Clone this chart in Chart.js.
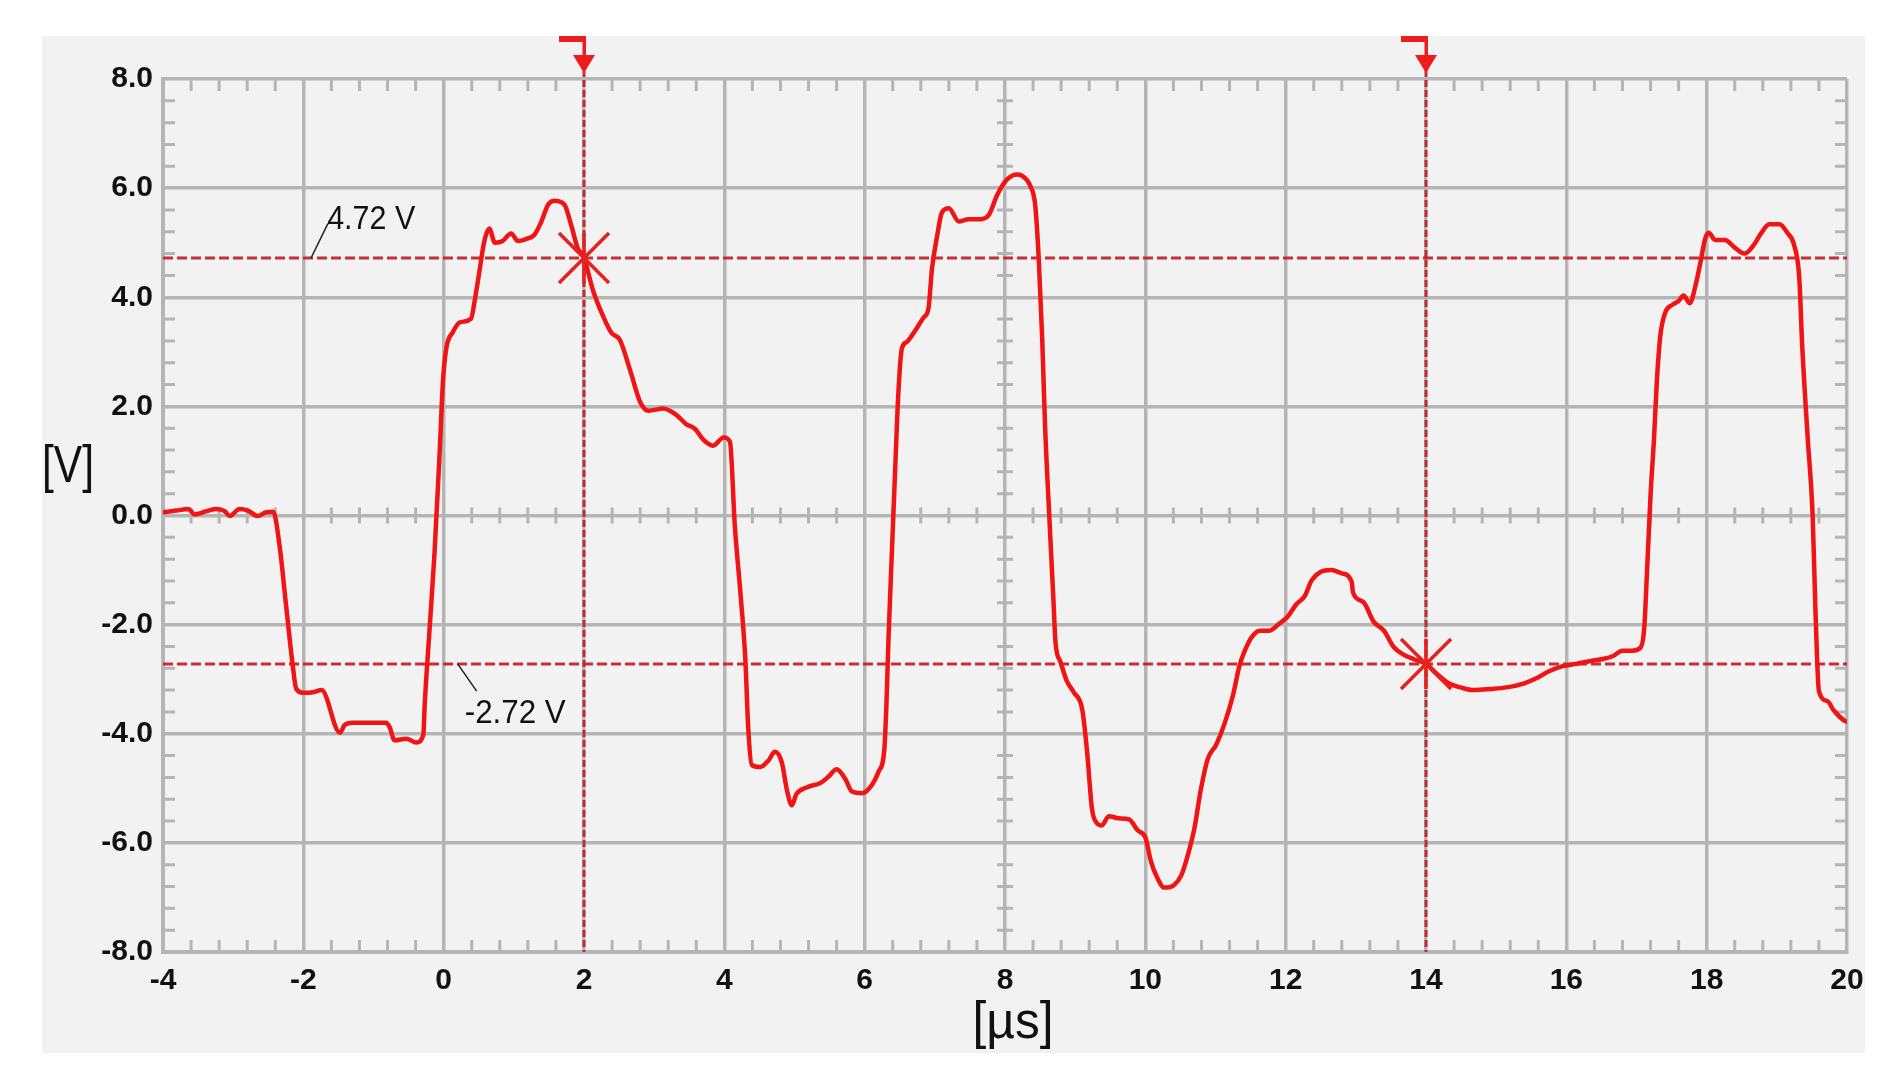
<!DOCTYPE html>
<html><head><meta charset="utf-8">
<script src="https://cdn.jsdelivr.net/npm/chart.js@4.4.1/dist/chart.umd.min.js"></script>
<style>html,body{margin:0;padding:0;background:#fff;}canvas{display:block;}</style>
</head><body>
<canvas id="c" width="1890" height="1086" style="width:1890px;height:1086px"></canvas>
<script>
// ---- data ----
const timesUs = [
 -4.00,-3.81,-3.64,-3.55,-3.38,-3.24,-3.12,-3.05,-2.91,-2.79,-2.65,-2.53,-2.43,
 -2.34,-2.24,-2.15,-2.10,-2.00,-1.86,-1.74,-1.48,-1.41,-1.30,-1.00,-0.82,-0.77,
 -0.70,-0.53,-0.39,-0.29,-0.27,-0.20,-0.13,-0.06,-0.01,0.04,0.13,0.23,0.39,0.44,
 0.51,0.58,0.65,0.73,0.84,0.96,1.06,1.18,1.29,1.39,1.49,1.58,1.72,1.82,1.91,2.00,
 2.13,2.28,2.39,2.51,2.66,2.80,2.92,3.13,3.32,3.46,3.58,3.70,3.84,3.99,4.08,
 4.15,4.23,4.30,4.34,4.39,4.51,4.63,4.72,4.82,4.89,4.96,5.03,5.18,5.37,5.49,
 5.60,5.72,5.82,5.96,6.08,6.20,6.28,6.31,6.34,6.39,6.44,6.48,6.53,6.60,6.70,
 6.84,6.91,6.96,7.03,7.10,7.20,7.34,7.48,7.63,7.77,7.89,8.03,8.17,8.24,8.36,
 8.43,8.48,8.53,8.57,8.64,8.69,8.72,8.79,8.88,8.98,9.10,9.17,9.24,9.31,9.38,
 9.48,9.62,9.77,9.89,10.00,10.08,10.17,10.27,10.41,10.51,10.60,10.70,10.79,
 10.89,11.01,11.13,11.25,11.34,11.41,11.51,11.63,11.77,11.91,12.03,12.15,12.27,
 12.37,12.49,12.65,12.80,12.94,12.96,13.11,13.25,13.40,13.54,13.68,13.82,14.00,
 14.16,14.33,14.49,14.68,14.92,15.15,15.39,15.58,15.76,15.95,16.14,16.33,16.52,
 16.66,16.80,16.94,17.06,17.11,17.15,17.20,17.25,17.29,17.34,17.41,17.51,17.60,
 17.67,17.76,17.84,17.91,17.98,18.03,18.12,18.26,18.40,18.54,18.66,18.78,18.89,
 19.04,19.15,19.25,19.32,19.36,19.44,19.51,19.55,19.60,19.72,19.81,19.95,20.00
];
const voltsV = [
 0.06,0.09,0.12,0.02,0.08,0.12,0.08,-0.01,0.12,0.09,-0.01,0.06,0.07,
 -0.54,-1.72,-2.76,-3.18,-3.25,-3.24,-3.20,-3.98,-3.84,-3.80,-3.80,-3.80,-3.88,
 -4.12,-4.09,-4.16,-4.02,-3.46,-2.07,-0.68,1.07,2.46,3.08,3.36,3.54,3.61,3.92,
 4.48,5.03,5.26,5.00,5.03,5.17,5.03,5.07,5.14,5.38,5.70,5.77,5.70,5.31,4.90,4.72,
 4.12,3.63,3.35,3.22,2.65,2.08,1.92,1.96,1.84,1.67,1.59,1.39,1.28,1.43,1.35,
 -0.20,-1.43,-2.65,-3.88,-4.57,-4.61,-4.49,-4.33,-4.53,-5.02,-5.31,-5.10,-4.98,-4.90,-4.78,
 -4.65,-4.82,-5.06,-5.09,-4.98,-4.69,-4.29,-3.47,-2.24,-0.61,1.02,2.24,3.06,3.18,3.35,
 3.63,3.80,4.53,5.10,5.55,5.63,5.39,5.43,5.43,5.51,5.88,6.16,6.25,6.23,6.04,
 5.69,4.73,3.25,1.68,-0.24,-1.54,-2.33,-2.68,-3.03,-3.24,-3.55,-4.33,-5.38,-5.64,-5.68,
 -5.51,-5.55,-5.57,-5.77,-5.90,-6.34,-6.64,-6.82,-6.77,-6.60,-6.25,-5.73,-5.03,
 -4.46,-4.20,-3.81,-3.29,-2.76,-2.50,-2.24,-2.11,-2.11,-1.98,-1.85,-1.63,-1.48,
 -1.19,-1.04,-1.00,-1.06,-1.21,-1.41,-1.59,-1.94,-2.11,-2.41,-2.55,-2.63,-2.72,
 -2.91,-3.08,-3.15,-3.20,-3.18,-3.15,-3.08,-2.98,-2.85,-2.76,-2.72,-2.67,-2.63,
 -2.58,-2.48,-2.48,-2.42,-2.07,-1.03,0.37,1.42,2.46,3.30,3.72,3.86,3.93,
 4.03,3.89,4.21,4.63,5.08,5.18,5.05,5.05,4.91,4.80,4.94,5.18,5.34,
 5.34,5.18,4.94,4.35,3.16,1.42,0.02,-1.72,-3.22,-3.40,-3.57,-3.75,-3.78
];
const xRange = [-4, 20];
const yRange = [-8, 8];
const tickStep = 2;
const minorStep = 0.4;
const cursorTimes = [2, 14];
const cursorLevels = [4.72, -2.72];
const cursorLabels = ['4.72 V', '-2.72 V'];
const xAxisTitle = '[\u00b5s]';
const yAxisTitle = '[V]';

// ---- styling ----
const GRID = '#b5b5b5';
const TRACE = '#f01414';
const CURSOR = 'rgba(196,36,44,0.95)';
const FONT = "'Liberation Sans', Arial, sans-serif";

const points = timesUs.map((t, i) => ({x: t, y: voltsV[i]}));

function drawScaledText(ctx, text, x, y, font, targetW, align) {
  ctx.save();
  ctx.font = font;
  const w = ctx.measureText(text).width;
  const s = targetW / w;
  ctx.translate(x, y);
  ctx.scale(s, 1);
  ctx.textAlign = align;
  ctx.fillText(text, 0, 0);
  ctx.restore();
}

const backgroundPlugin = {
  id: 'panelBg',
  beforeDraw(chart) {
    const ctx = chart.ctx;
    ctx.save();
    ctx.fillStyle = '#ffffff';
    ctx.fillRect(0, 0, chart.width, chart.height);
    ctx.fillStyle = '#f2f2f2';
    ctx.fillRect(42, 36, 1823, 1017);
    ctx.restore();
  }
};

const minorTickPlugin = {
  id: 'minorTicks',
  beforeDatasetsDraw(chart) {
    const ctx = chart.ctx, xs = chart.scales.x, ys = chart.scales.y;
    const {left, right, top, bottom} = chart.chartArea;
    const y0 = ys.getPixelForValue(0);
    const xMid = xs.getPixelForValue(8);
    ctx.save();
    ctx.strokeStyle = GRID;
    ctx.lineWidth = 3;
    const nx = Math.round((xRange[1] - xRange[0]) / minorStep);
    for (let i = 0; i <= nx; i++) {
      if (i % 5 === 0) continue;
      const px = xs.getPixelForValue(xRange[0] + i * minorStep);
      ctx.beginPath();
      ctx.moveTo(px, top); ctx.lineTo(px, top + 12);
      ctx.moveTo(px, bottom); ctx.lineTo(px, bottom - 12);
      ctx.moveTo(px, y0 - 8); ctx.lineTo(px, y0 + 8);
      ctx.stroke();
    }
    const ny = Math.round((yRange[1] - yRange[0]) / minorStep);
    for (let i = 0; i <= ny; i++) {
      if (i % 5 === 0) continue;
      const py = ys.getPixelForValue(yRange[0] + i * minorStep);
      ctx.beginPath();
      ctx.moveTo(left, py); ctx.lineTo(left + 12, py);
      ctx.moveTo(right, py); ctx.lineTo(right - 12, py);
      ctx.moveTo(xMid - 8, py); ctx.lineTo(xMid + 8, py);
      ctx.stroke();
    }
    // cursors
    ctx.strokeStyle = CURSOR;
    ctx.lineWidth = 3;
    ctx.setLineDash([10, 4]);
    cursorLevels.forEach(v => {
      const py = ys.getPixelForValue(v);
      ctx.beginPath(); ctx.moveTo(left, py); ctx.lineTo(right, py); ctx.stroke();
    });
    ctx.setLineDash([7, 3]);
    cursorTimes.forEach(t => {
      const px = xs.getPixelForValue(t);
      ctx.beginPath(); ctx.moveTo(px, 70); ctx.lineTo(px, bottom); ctx.stroke();
    });
    ctx.setLineDash([]);
    ctx.restore();
  },
  afterDatasetsDraw(chart) {
    const ctx = chart.ctx, xs = chart.scales.x, ys = chart.scales.y;
    ctx.save();
    // flags at top of cursors
    ctx.fillStyle = '#ee1c1c';
    cursorTimes.forEach(t => {
      const px = xs.getPixelForValue(t);
      ctx.fillRect(px - 25, 36, 27, 6);
      ctx.fillRect(px - 1.5, 36, 3.5, 22);
      ctx.beginPath();
      ctx.moveTo(px - 11, 55); ctx.lineTo(px + 11, 55); ctx.lineTo(px, 73);
      ctx.closePath(); ctx.fill();
    });
    // star markers where cursors meet the levels
    ctx.strokeStyle = '#e8201e';
    ctx.lineWidth = 3.5;
    cursorTimes.forEach((t, i) => {
      const px = xs.getPixelForValue(t), py = ys.getPixelForValue(cursorLevels[i]);
      const r = 25;
      ctx.beginPath();
      ctx.moveTo(px - r, py - r); ctx.lineTo(px + r, py + r);
      ctx.moveTo(px - r, py + r); ctx.lineTo(px + r, py - r);
      ctx.moveTo(px, py - r); ctx.lineTo(px, py + r);
      ctx.stroke();
    });
    // level annotations with leader lines
    const ann = [
      {from: [-1.89, 4.72], to: [-1.65, 5.35], text: [-1.66, 5.26], w: 88},
      {from: [0.20, -2.72], to: [0.47, -3.22], text: [0.30, -3.81], w: 101}
    ];
    ctx.strokeStyle = '#222';
    ctx.lineWidth = 1.5;
    ctx.fillStyle = '#111';
    ctx.textBaseline = 'alphabetic';
    ann.forEach((a, i) => {
      ctx.beginPath();
      ctx.moveTo(xs.getPixelForValue(a.from[0]), ys.getPixelForValue(a.from[1]));
      ctx.lineTo(xs.getPixelForValue(a.to[0]), ys.getPixelForValue(a.to[1]));
      ctx.stroke();
      drawScaledText(ctx, cursorLabels[i], xs.getPixelForValue(a.text[0]),
        ys.getPixelForValue(a.text[1]), '33px ' + FONT, a.w, 'left');
    });
    // axis titles (horizontal, as in the reference)
    ctx.fillStyle = '#111';
    ctx.textBaseline = 'middle';
    drawScaledText(ctx, yAxisTitle, 68, 468, '52px ' + FONT, 52, 'center');
    drawScaledText(ctx, xAxisTitle, 1013, 1024, '52px ' + FONT, 81, 'center');
    ctx.restore();
  }
};

new Chart(document.getElementById('c'), {
  type: 'line',
  data: {
    datasets: [{
      data: points,
      borderColor: TRACE,
      borderWidth: 4.5,
      pointRadius: 0,
      cubicInterpolationMode: 'monotone',
      borderJoinStyle: 'round',
      borderCapStyle: 'round',
      fill: false
    }]
  },
  options: {
    responsive: false,
    devicePixelRatio: 1,
    animation: false,
    events: [],
    layout: {padding: {top: 79, right: 43, left: 0, bottom: 0}},
    plugins: {legend: {display: false}, tooltip: {enabled: false}, title: {display: false}},
    scales: {
      x: {
        type: 'linear',
        min: xRange[0], max: xRange[1],
        afterFit(s) { s.height = 134; },
        grid: {color: GRID, lineWidth: 3.5, drawTicks: false},
        border: {display: true, color: GRID, width: 4},
        ticks: {
          stepSize: tickStep, padding: 11, color: '#111',
          font: {family: FONT, size: 30, weight: 'bold'},
          maxRotation: 0,
          callback: v => String(v)
        }
      },
      y: {
        type: 'linear',
        min: yRange[0], max: yRange[1],
        afterFit(s) { s.width = 163; },
        grid: {color: GRID, lineWidth: 3.5, drawTicks: false},
        border: {display: true, color: GRID, width: 4},
        ticks: {
          stepSize: tickStep, padding: 10, color: '#111',
          font: {family: FONT, size: 30, weight: 'bold'},
          callback: v => Number(v).toFixed(1)
        }
      }
    }
  },
  plugins: [backgroundPlugin, minorTickPlugin]
});
</script>
</body></html>
